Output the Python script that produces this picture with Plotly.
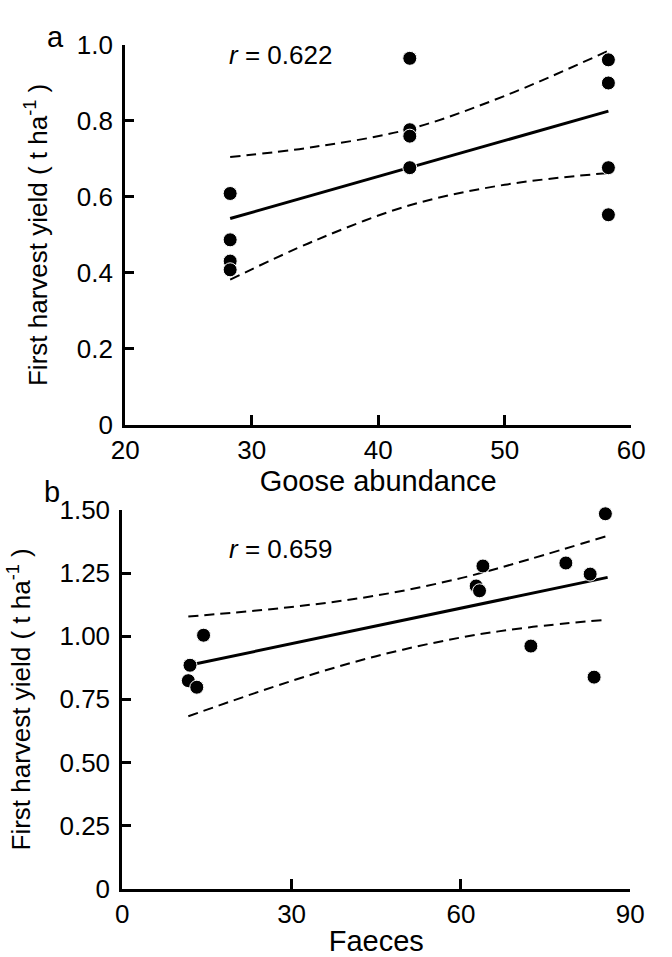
import plotly.graph_objects as go

W, H = 672, 957

# ---------------- Data ----------------
# Panel a: goose abundance vs first harvest yield
goose = [28.3, 28.3, 28.3, 28.3, 42.5, 42.5, 42.5, 42.5, 58.2, 58.2, 58.2, 58.2]
yield_a = [0.609, 0.487, 0.431, 0.408, 0.965, 0.777, 0.760, 0.677, 0.961, 0.900, 0.677, 0.553]
fit_a_x = [28.3, 58.2]
fit_a_y = [0.543, 0.826]
band_a_x = [28.3, 35, 42.5, 50, 58.2]
band_a_upper = [0.705, 0.732, 0.779, 0.866, 0.985]
band_a_lower = [0.382, 0.485, 0.578, 0.632, 0.663]
r_a = "0.622"

# Panel b: faeces vs first harvest yield
faeces = [14.4, 12.0, 11.7, 13.2, 63.9, 62.7, 63.3, 78.6, 82.9, 85.6, 72.4, 83.6]
yield_b = [1.004, 0.885, 0.824, 0.798, 1.278, 1.199, 1.180, 1.290, 1.246, 1.485, 0.961, 0.838]
fit_b_x = [12.0, 86.0]
fit_b_y = [0.886, 1.233]
band_b_x = [11.7, 30, 45, 60, 72, 85.6]
band_b_upper = [1.078, 1.116, 1.161, 1.230, 1.304, 1.395]
band_b_lower = [0.683, 0.823, 0.921, 0.995, 1.035, 1.065]
r_b = "0.659"

xticks_a = [20, 30, 40, 50, 60]
yticks_a = [0, 0.2, 0.4, 0.6, 0.8, 1.0]
yticktext_a = ["0", "0.2", "0.4", "0.6", "0.8", "1.0"]
xticks_b = [0, 30, 60, 90]
yticks_b = [0, 0.25, 0.5, 0.75, 1.0, 1.25, 1.5]
yticktext_b = ["0", "0.25", "0.50", "0.75", "1.00", "1.25", "1.50"]

# ---------------- Styling ----------------
FONT = "Liberation Sans, Arial, Helvetica, sans-serif"
BLACK = "#000000"
marker = dict(size=14, color=BLACK, line=dict(color="white", width=1))
fit_line = dict(color=BLACK, width=3)
band_line = dict(color=BLACK, width=2, dash="10px,6px", shape="spline")

fig = go.Figure()

# panel a
fig.add_trace(go.Scatter(x=band_a_x, y=band_a_upper, mode="lines", line=band_line,
                         xaxis="x", yaxis="y", showlegend=False, hoverinfo="skip"))
fig.add_trace(go.Scatter(x=band_a_x, y=band_a_lower, mode="lines", line=band_line,
                         xaxis="x", yaxis="y", showlegend=False, hoverinfo="skip"))
fig.add_trace(go.Scatter(x=fit_a_x, y=fit_a_y, mode="lines", line=fit_line,
                         xaxis="x", yaxis="y", showlegend=False))
fig.add_trace(go.Scatter(x=goose, y=yield_a, mode="markers", marker=marker,
                         xaxis="x", yaxis="y", showlegend=False, cliponaxis=False))

# panel b
fig.add_trace(go.Scatter(x=band_b_x, y=band_b_upper, mode="lines", line=band_line,
                         xaxis="x2", yaxis="y2", showlegend=False, hoverinfo="skip"))
fig.add_trace(go.Scatter(x=band_b_x, y=band_b_lower, mode="lines", line=band_line,
                         xaxis="x2", yaxis="y2", showlegend=False, hoverinfo="skip"))
fig.add_trace(go.Scatter(x=fit_b_x, y=fit_b_y, mode="lines", line=fit_line,
                         xaxis="x2", yaxis="y2", showlegend=False))
fig.add_trace(go.Scatter(x=faeces, y=yield_b, mode="markers", marker=marker,
                         xaxis="x2", yaxis="y2", showlegend=False, cliponaxis=False))


def px_x(p):
    return p / W


def px_y(p):
    return 1 - p / H


common_axis = dict(showline=True, linecolor=BLACK, linewidth=3, ticks="inside",
                   tickwidth=3, tickcolor=BLACK, showgrid=False, zeroline=False,
                   tickfont=dict(family=FONT, size=26, color=BLACK))

ytitle = "First harvest yield ( t ha<sup>-1</sup> )"

fig.update_layout(
    width=W, height=H,
    margin=dict(l=0, r=0, t=0, b=0),
    paper_bgcolor="white", plot_bgcolor="white",
    font=dict(family=FONT, color=BLACK),
    xaxis=dict(domain=[px_x(116), px_x(644)], range=[20, 60], anchor="y",
               tickvals=xticks_a, ticklen=10,
               title=dict(text="Goose abundance", font=dict(size=29), standoff=0),
               **common_axis),
    yaxis=dict(domain=[px_y(423), px_y(31)], range=[0, 1.0], anchor="x",
               tickvals=yticks_a, ticktext=yticktext_a, ticklen=9, ticklabelstandoff=4,
               title=dict(text=ytitle, font=dict(size=26), standoff=22),
               **common_axis),
    xaxis2=dict(domain=[px_x(113), px_x(643)], range=[0, 90], anchor="y2",
                tickvals=xticks_b, ticklen=10,
                title=dict(text="Faeces", font=dict(size=29), standoff=3),
                **common_axis),
    yaxis2=dict(domain=[px_y(902), px_y(511)], range=[0, 1.5], anchor="x2",
                tickvals=yticks_b, ticktext=yticktext_b, ticklen=9, ticklabelstandoff=4,
                title=dict(text=ytitle, font=dict(size=26), standoff=22),
                **common_axis),
    annotations=[
        dict(text="a", x=px_x(43), y=px_y(23), xref="paper", yref="paper",
             xanchor="center", yanchor="middle", showarrow=False,
             font=dict(size=29, family=FONT, color=BLACK)),
        dict(text="b", x=px_x(40), y=px_y(492), xref="paper", yref="paper",
             xanchor="center", yanchor="middle", showarrow=False,
             font=dict(size=29, family=FONT, color=BLACK)),
        dict(text="<i>r</i> = " + r_a, x=px_x(222), y=px_y(41), xref="paper", yref="paper",
             xanchor="left", yanchor="middle", showarrow=False,
             font=dict(size=26, family=FONT, color=BLACK)),
        dict(text="<i>r</i> = " + r_b, x=px_x(222), y=px_y(551), xref="paper", yref="paper",
             xanchor="left", yanchor="middle", showarrow=False,
             font=dict(size=26, family=FONT, color=BLACK)),
    ],
)

fig.write_html("out.html")
